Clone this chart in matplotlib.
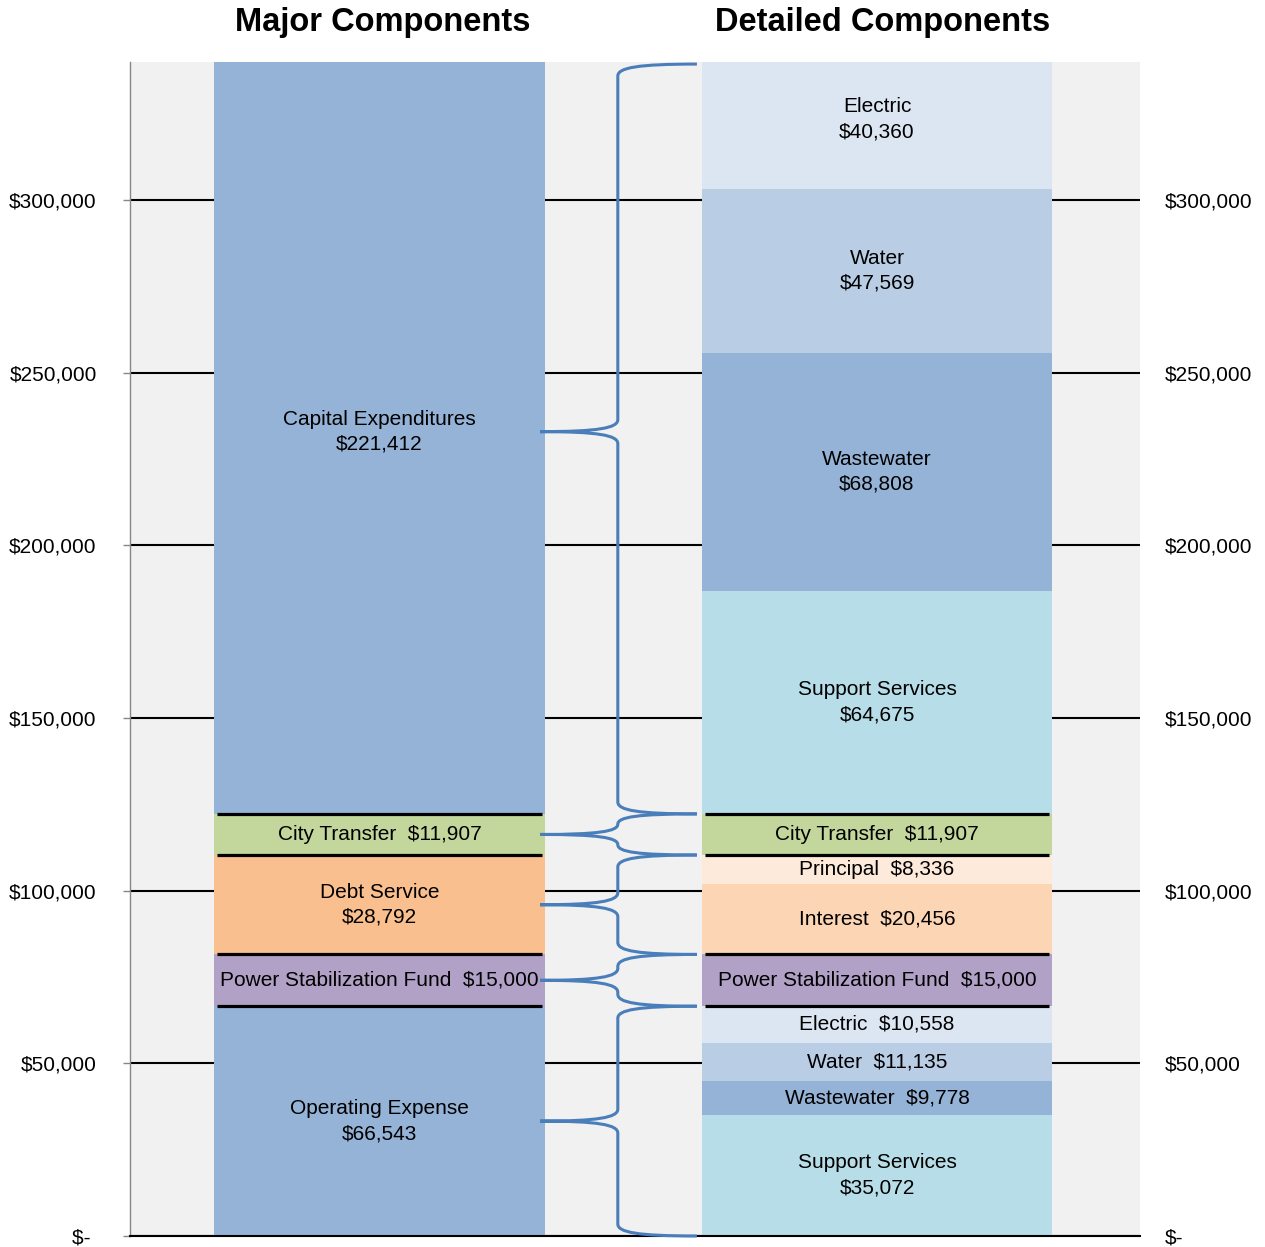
import matplotlib
matplotlib.use('Agg')
import numpy as np
import matplotlib.pyplot as plt
import matplotlib.transforms as mtransforms
from matplotlib.path import Path
from matplotlib.patches import PathPatch

plt.rcParams['font.family'] = ['Liberation Sans', 'DejaVu Sans']

# Major components (bottom to top)
major_names = ['Operating Expense', 'Power Stabilization Fund', 'Debt Service',
               'City Transfer', 'Capital Expenditures']
major_values = [66543, 15000, 28792, 11907, 221412]
major_two_line = [True, False, True, False, True]
major_colors = ['#95b3d7', '#b2a1c7', '#fabf8f', '#c3d69b', '#95b3d7']

# Detailed components (bottom to top)
detail_names = ['Support Services', 'Wastewater', 'Water', 'Electric',
                'Power Stabilization Fund', 'Interest', 'Principal', 'City Transfer',
                'Support Services', 'Wastewater', 'Water', 'Electric']
detail_values = [35072, 9778, 11135, 10558, 15000, 20456, 8336, 11907,
                 64675, 68808, 47569, 40360]
detail_two_line = [True, False, False, False, False, False, False, False,
                   True, True, True, True]
detail_colors = ['#b7dee8', '#95b3d7', '#b9cde5', '#dce6f2', '#b2a1c7', '#fcd5b5',
                 '#fdeada', '#c3d69b', '#b7dee8', '#95b3d7', '#b9cde5', '#dce6f2']

y_ticks = [0, 50000, 100000, 150000, 200000, 250000, 300000]
titles = ['Major Components', 'Detailed Components']


def money(v):
    return '$-' if v == 0 else '${:,}'.format(v)


W, H = 1265, 1247
fig = plt.figure(figsize=(W / 100, H / 100), dpi=100)
ax = fig.add_axes([130 / W, 11 / H, 1010 / W, 1174 / H])
ax.set_facecolor('#f1f1f1')
ax.set_xlim(-0.5015, 1.5286)
ax.set_ylim(0, 340000)

bar_w = [0.665, 0.703]
px = 340000 / 1174  # value units per pixel

# bars + labels
for xpos, names, vals, two, cols in [
        (0, major_names, major_values, major_two_line, major_colors),
        (1, detail_names, detail_values, detail_two_line, detail_colors)]:
    bottoms = np.concatenate([[0], np.cumsum(vals)[:-1]])
    ax.bar(xpos, vals, bottom=bottoms, width=bar_w[xpos], color=cols,
           edgecolor='none', zorder=2)
    for name, v, b, t in zip(names, vals, bottoms, two):
        txt = '{}\n{}'.format(name, money(v)) if t else '{}  {}'.format(name, money(v))
        ax.text(xpos, b + v / 2, txt, ha='center', va='center', fontsize=15,
                linespacing=1.4, zorder=5, clip_on=False)

# black separators around the middle major components
major_cum = np.cumsum(major_values)
seps = major_cum[:4]
for xpos in (0, 1):
    ax.hlines(seps, xpos - bar_w[xpos] / 2 + 0.005, xpos + bar_w[xpos] / 2 - 0.005,
              color='black', lw=2.3, zorder=3)


def horn(x_from, y_from, x_to, y_to):
    # curve leaving the spine vertically and arriving horizontally
    dy = y_to - y_from
    return [(x_from, y_from + 0.7 * dy),
            (x_from + 0.25 * (x_to - x_from), y_to),
            (x_to, y_to)]


# braces linking each major component to its detailed parts
xt, xs, xe = 0.3226, 0.479, 0.638
major_bottoms = np.concatenate([[0], major_cum[:-1]])
for b, v in zip(major_bottoms, major_values):
    y0, y1 = b, b + v
    ym = (y0 + y1) / 2
    y1 = min(y1, 339400)
    y0 = max(y0, -700)
    d = min(12 * px, (y1 - y0) / 4)
    top = horn(xs, y1 - d, xe, y1)
    tip_lo = horn(xs, ym - d, xt, ym)
    verts = ([(xe, y1), top[1], top[0], (xs, y1 - d), (xs, ym + d)]
             + horn(xs, ym + d, xt, ym)
             + [tip_lo[1], tip_lo[0], (xs, ym - d), (xs, y0 + d)]
             + horn(xs, y0 + d, xe, y0))
    codes = [Path.MOVETO, Path.CURVE4, Path.CURVE4, Path.CURVE4,
             Path.LINETO,
             Path.CURVE4, Path.CURVE4, Path.CURVE4,
             Path.CURVE4, Path.CURVE4, Path.CURVE4,
             Path.LINETO,
             Path.CURVE4, Path.CURVE4, Path.CURVE4]
    ax.add_patch(PathPatch(Path(verts, codes), facecolor='none', edgecolor='#4a7ebb',
                           lw=2.2, zorder=4, clip_on=False, joinstyle='miter'))

# axes styling
ax.set_xticks([])
ax.set_yticks(y_ticks)
ax.set_yticklabels([money(v) + (' ' if v == 0 else '') for v in y_ticks])
ax.yaxis.grid(True, color='black', lw=1.5)
ax.set_axisbelow(True)
ax.tick_params(axis='y', length=5, width=1, color='#868686', pad=19, labelsize=15)
for s in ['top', 'right']:
    ax.spines[s].set_visible(False)
ax.spines['left'].set_color('#868686')
ax.spines['left'].set_linewidth(1)
ax.spines['bottom'].set_color('black')
ax.spines['bottom'].set_linewidth(1.5)

ax2 = ax.twinx()
ax2.set_ylim(ax.get_ylim())
ax2.set_yticks(y_ticks)
ax2.set_yticklabels([money(v) for v in y_ticks])
ax2.tick_params(axis='y', length=0, pad=18, labelsize=15)
for s in ax2.spines.values():
    s.set_visible(False)

trans = mtransforms.blended_transform_factory(ax.transData, fig.transFigure)
for xpos, t, off in [(0, titles[0], 0.007), (1, titles[1], 0.012)]:
    ax.text(xpos + off, 1 - 23 / H, t, transform=trans, ha='center', va='center',
            fontsize=23.5, fontweight='bold')

fig.savefig('out.png', dpi=100)
